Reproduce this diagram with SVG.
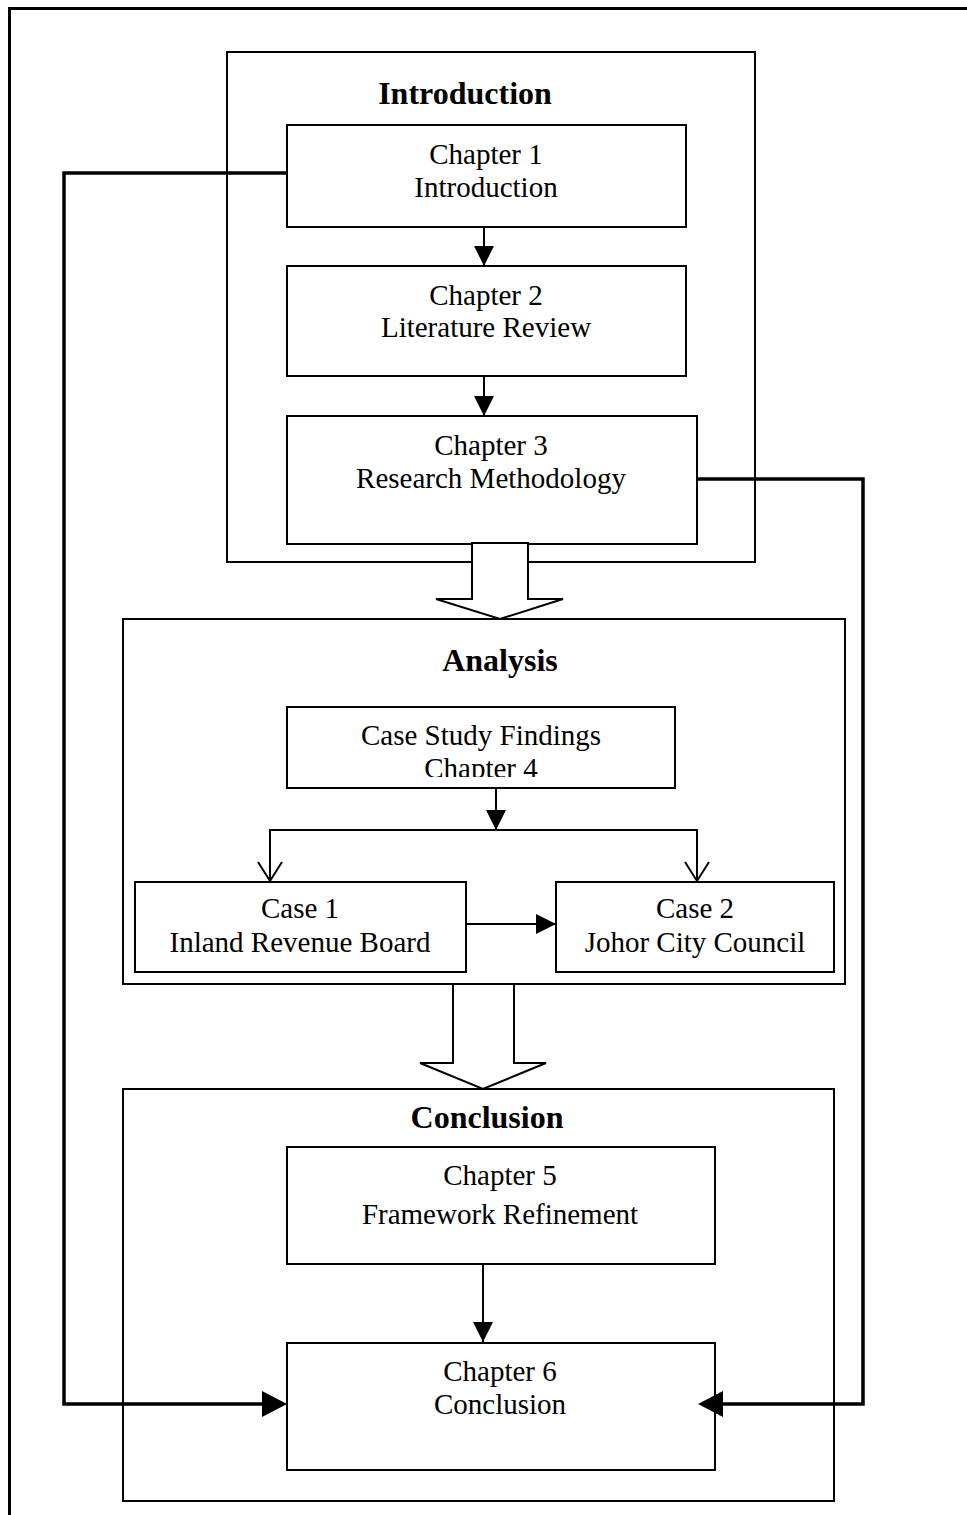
<svg xmlns="http://www.w3.org/2000/svg" width="967" height="1515" viewBox="0 0 967 1515">
<style>
text{font-family:"Liberation Serif","Times New Roman",serif;font-size:29px;fill:#000;text-anchor:middle}
.h{font-weight:bold;font-size:32px}
.box{fill:#fff;stroke:#000;stroke-width:2}
.cont{fill:none;stroke:#000;stroke-width:2}
.thin{fill:none;stroke:#000;stroke-width:2}
.thick{fill:none;stroke:#000;stroke-width:3.5}
.blk{fill:#fff;stroke:#000;stroke-width:2;stroke-linejoin:miter}
</style>
<defs>
<marker id="fa" viewBox="0 0 20 20" refX="20" refY="10" markerWidth="20" markerHeight="20" markerUnits="userSpaceOnUse" orient="auto"><path d="M0,0 L20,10 L0,20 Z" fill="#000"/></marker>
<clipPath id="c4"><rect x="287" y="707" width="388" height="70"/></clipPath>
</defs>
<rect width="967" height="1515" fill="#fff"/>
<rect id="frame" x="9.5" y="8.5" width="1000" height="1600" fill="none" stroke="#000" stroke-width="3"/>

<g id="introduction">
<rect class="cont" x="227" y="52" width="528" height="510"/>
<text class="h" x="465" y="104">Introduction</text>
</g>
<g id="analysis">
<rect class="cont" x="123" y="619" width="722" height="365"/>
<text class="h" x="500" y="671">Analysis</text>
</g>
<g id="conclusion">
<rect class="cont" x="123" y="1089" width="711" height="412"/>
<text class="h" x="487" y="1128">Conclusion</text>
</g>

<g id="ch1"><rect class="box" x="287" y="125" width="399" height="102"/><text x="486" y="164">Chapter 1</text><text x="486" y="197">Introduction</text></g>
<g id="ch2"><rect class="box" x="287" y="266" width="399" height="110"/><text x="486" y="305">Chapter 2</text><text x="486" y="337">Literature Review</text></g>
<g id="ch3"><rect class="box" x="287" y="416" width="410" height="128"/><text x="491" y="455">Chapter 3</text><text x="491" y="488">Research Methodology</text></g>
<g id="ch4"><rect class="box" x="287" y="707" width="388" height="81"/><text x="481" y="745">Case Study Findings</text><text x="481" y="778" clip-path="url(#c4)">Chapter 4</text></g>
<g id="case1"><rect class="box" x="135" y="882" width="331" height="90"/><text x="300" y="918">Case 1</text><text x="300" y="952">Inland Revenue Board</text></g>
<g id="case2"><rect class="box" x="556" y="882" width="278" height="90"/><text x="695" y="918">Case 2</text><text x="695" y="952">Johor City Council</text></g>
<g id="ch5"><rect class="box" x="287" y="1147" width="428" height="117"/><text x="500" y="1185">Chapter 5</text><text x="500" y="1224">Framework Refinement</text></g>
<g id="ch6"><rect class="box" x="287" y="1343" width="428" height="127"/><text x="500" y="1381">Chapter 6</text><text x="500" y="1414">Conclusion</text></g>

<g id="connectors">
<path class="blk" d="M472,543 L528,543 L528,599 L563,599 L500,619 L436,599 L472,599 Z"/>
<path class="blk" d="M453,984 L514,984 L514,1063 L546,1063 L483,1089 L420,1063 L453,1063 Z"/>
<line class="thin" x1="484" y1="227" x2="484" y2="266" marker-end="url(#fa)"/>
<line class="thin" x1="484" y1="376" x2="484" y2="416" marker-end="url(#fa)"/>
<line class="thin" x1="496" y1="788" x2="496" y2="830" marker-end="url(#fa)"/>
<path class="thin" d="M270,881 L270,830 L697,830 L697,881"/>
<path class="thin" d="M258,862 L270,881 L282,862 M685,862 L697,881 L709,862"/>
<line class="thin" x1="466" y1="924" x2="556" y2="924" marker-end="url(#fa)"/>
<line class="thin" x1="483" y1="1264" x2="483" y2="1342" marker-end="url(#fa)"/>
<path class="thick" d="M287,173 L64,173 L64,1404 L264,1404"/>
<path d="M262,1391 L287,1404 L262,1417 Z" fill="#000"/>
<path class="thick" d="M697,479 L863,479 L863,1404 L721,1404"/>
<path d="M723,1391 L698,1404 L723,1417 Z" fill="#000"/>
</g>
</svg>
